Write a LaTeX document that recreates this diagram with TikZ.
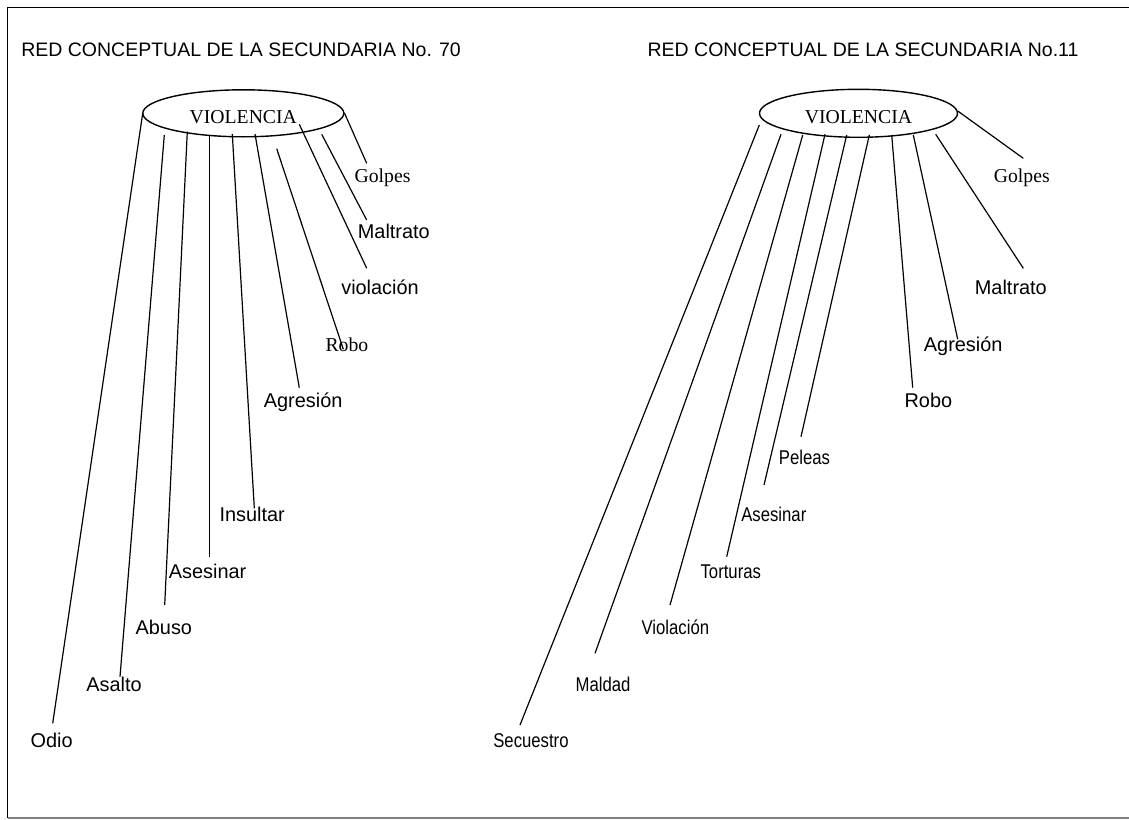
\documentclass[tikz,border=0pt]{standalone}
\usepackage{fontspec}
\setmainfont{Liberation Serif}
\setsansfont{Liberation Sans}
\newfontfamily\narrowsans[FakeStretch=0.84]{Liberation Sans}
\usepackage{tikz}
\usetikzlibrary{shapes.geometric,positioning}

\begin{document}
\begin{tikzpicture}[x=1pt,y=-1pt,line width=1.2pt,
	ovalnode/.style={ellipse,draw,line width=1.4pt,inner sep=0pt,font=\fontsize{19.7}{22}\selectfont,text height=21pt,text depth=0pt},
	titlenode/.style={anchor=base west,inner sep=0pt,font=\sffamily\fontsize{19.5}{22}\selectfont},
	wordnode/.style={anchor=base west,inner sep=0pt,font=\sffamily\fontsize{19.9}{22}\selectfont},
	narrownode/.style={anchor=base west,inner sep=0pt,font=\narrowsans\fontsize{19.9}{22}\selectfont},
	serifnode/.style={anchor=base west,inner sep=0pt,font=\rmfamily\fontsize{19.7}{22}\selectfont}]
	
	\useasboundingbox (0,0) rectangle (1129,819);
	\draw[line width=1.4pt] (7.5,818) -- (7.5,7.5) -- (1135,7.5);
	\draw[gray] (7.5,818) -- (1135,818);
	
	% secundaria 70
	\node [titlenode] (t0) at (20.7, 56) {RED CONCEPTUAL DE LA SECUNDARIA No. 70};
	\node [ovalnode,minimum width=201pt,minimum height=47pt] (v0) at (243.3, 113.3) {VIOLENCIA};
	\node [wordnode] (l1) at (30, 747) {Odio};
	\node [wordnode] (l2) at (85.7, 691) {Asalto};
	\node [wordnode] (l3) at (135, 634.3) {Abuso};
	\node [wordnode] (l4) at (168.3, 578) {Asesinar};
	\node [wordnode] (l5) at (219, 521) {Insultar};
	\node [wordnode] (l6) at (263.3, 407) {Agresión};
	\node [serifnode] (l7) at (325, 351.5) {Robo};
	\node [wordnode] (l8) at (340.7, 294.3) {violación};
	\node [wordnode] (l9) at (357.3, 238.7) {Maltrato};
	\node [serifnode] (l10) at (354, 182.5) {Golpes};
	
	\coordinate (l1t) at (142.7, 113.3);  \coordinate (l1b) at (52.7, 723.3);
	\coordinate (l2t) at (164.3, 135);    \coordinate (l2b) at (120, 676.7);
	\coordinate (l3t) at (187.3, 131.7);  \coordinate (l3b) at (164.7, 605);
	\coordinate (l4t) at (209.3, 136);    \coordinate (l4b) at (209.3, 556.7);
	\coordinate (l5t) at (232.3, 134);    \coordinate (l5b) at (254.3, 508.3);
	\coordinate (l6t) at (255, 134);      \coordinate (l6b) at (299.3, 387.7);
	\coordinate (l7t) at (276.7, 148.7);  \coordinate (l7b) at (343.3, 349.3);
	\coordinate (l8t) at (299.3, 124.3);  \coordinate (l8b) at (366.7, 268.3);
	\coordinate (l9t) at (321.7, 134.3);  \coordinate (l9b) at (366.7, 220);
	\coordinate (l10t) at (344.3, 112.7); \coordinate (l10b) at (366.7, 163.3);
	
	\draw (l1t) to (l1b);
	\draw (l2t) to (l2b);
	\draw (l3t) to (l3b);
	\draw (l4t) to (l4b);
	\draw (l5t) to (l5b);
	\draw (l6t) to (l6b);
	\draw (l7t) to (l7b);
	\draw (l8t) to (l8b);
	\draw (l9t) to (l9b);
	\draw (l10t) to (l10b);
	
	% secundaria 11
	\node [titlenode] (t1) at (647, 56) {RED CONCEPTUAL DE LA SECUNDARIA No.11};
	\node [ovalnode,minimum width=198pt,minimum height=48pt] (v1) at (858.5, 113.3) {VIOLENCIA};
	\node [narrownode] (r1) at (492.7, 747) {Secuestro};
	\node [narrownode] (r2) at (575, 691) {Maldad};
	\node [narrownode] (r3) at (641, 634.3) {Violación};
	\node [narrownode] (r4) at (700, 578) {Torturas};
	\node [narrownode] (r5) at (740.7, 521) {Asesinar};
	\node [narrownode] (r6) at (778.3, 464.3) {Peleas};
	\node [wordnode] (r7) at (904, 407) {Robo};
	\node [wordnode] (r8) at (923.3, 351) {Agresión};
	\node [wordnode] (r9) at (974.3, 294.3) {Maltrato};
	\node [serifnode] (r10) at (993.3, 182.5) {Golpes};
	
	\coordinate (r1t) at (759.3, 125);    \coordinate (r1b) at (520, 725);
	\coordinate (r2t) at (781, 134.3);    \coordinate (r2b) at (595, 653.3);
	\coordinate (r3t) at (802.7, 135);    \coordinate (r3b) at (670, 605);
	\coordinate (r4t) at (825, 134.3);    \coordinate (r4b) at (726.7, 556.7);
	\coordinate (r5t) at (846.7, 135);    \coordinate (r5b) at (764, 485);
	\coordinate (r6t) at (869.3, 135);    \coordinate (r6b) at (801, 436.7);
	\coordinate (r7t) at (891.7, 135);    \coordinate (r7b) at (912.7, 387.7);
	\coordinate (r8t) at (913.3, 135);    \coordinate (r8b) at (957.7, 339.3);
	\coordinate (r9t) at (935.7, 134.3);  \coordinate (r9b) at (1023.3, 268.3);
	\coordinate (r10t) at (957.7, 111);   \coordinate (r10b) at (1023.3, 158.3);
	
	\draw (r1t) to (r1b);
	\draw (r2t) to (r2b);
	\draw (r3t) to (r3b);
	\draw (r4t) to (r4b);
	\draw (r5t) to (r5b);
	\draw (r6t) to (r6b);
	\draw (r7t) to (r7b);
	\draw (r8t) to (r8b);
	\draw (r9t) to (r9b);
	\draw (r10t) to (r10b);
\end{tikzpicture}
\end{document}
